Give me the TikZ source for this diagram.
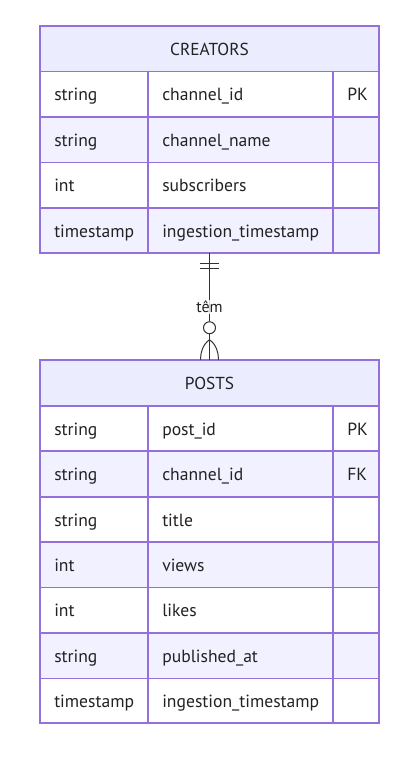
\documentclass[tikz,border=0pt]{standalone}
\usepackage{fontspec}
\setmainfont{PT Sans}
\definecolor{entstroke}{HTML}{9370DB}
\definecolor{hdrfill}{HTML}{ECECFF}
\definecolor{evenfill}{HTML}{F2F1FF}
\definecolor{txt}{HTML}{222222}
\definecolor{lnk}{HTML}{333333}
\def\u{0.75pt}
\tikzset{
  cellbox/.style={draw=entstroke, line width=1.3pt, fill=#1},
  celltxt/.style={inner sep=0pt, anchor=base west, text=txt, font=\fontsize{13.2}{15}\selectfont},
  hdrtxt/.style={inner sep=0pt, anchor=base, text=txt, font=\fontsize{13}{15}\selectfont},
  entity/.style={draw=none, inner sep=0pt, minimum width=339*\u, minimum height=#1*\u},
  relline/.style={draw=lnk, line width=0.75pt},
  rellabel/.style={fill=white, fill opacity=0.8, text opacity=1, inner sep=1pt, text=txt, font=\fontsize{12}{13}\selectfont},
}
% \erow{y0}{y1}{fill}{type}{name}{key}{id}
\newcommand\erow[7]{%
  \path[cellbox=#3] (40,#1) rectangle (148,#2);
  \path[cellbox=#3] (148,#1) rectangle (333,#2);
  \path[cellbox=#3] (333,#1) rectangle (379,#2);
  \node[celltxt] (#7t) at (54,{(#1+#2)/2+6.5}) {#4};
  \node[celltxt] (#7n) at (162,{(#1+#2)/2+6.5}) {#5};
  \node[celltxt] (#7k) at (347,{(#1+#2)/2+6.5}) {#6};
}
\begin{document}
\begin{tikzpicture}[x=0.75pt,y=-0.75pt]
\useasboundingbox (0,0) rectangle (414,758);
% CREATORS
\node[entity=227] (creators) at (209.5,139.5) {};
\path[cellbox=hdrfill] (40,26) rectangle (379,71.5);
\node[hdrtxt] (creatorsh) at (209.5,55) {CREATORS};
\erow{71.5}{117}{white}{string}{channel\_id}{PK}{c1}
\erow{117}{162.5}{evenfill}{string}{channel\_name}{}{c2}
\erow{162.5}{208}{white}{int}{subscribers}{}{c3}
\erow{208}{253}{evenfill}{timestamp}{ingestion\_timestamp}{}{c4}
% POSTS
\node[entity=363] (posts) at (209.5,541.5) {};
\path[cellbox=hdrfill] (40,360) rectangle (379,406);
\node[hdrtxt] (postsh) at (209.5,389.5) {POSTS};
\erow{406}{451.3}{white}{string}{post\_id}{PK}{p1}
\erow{451.3}{496.8}{evenfill}{string}{channel\_id}{FK}{p2}
\erow{496.8}{542.2}{white}{string}{title}{}{p3}
\erow{542.2}{587.6}{evenfill}{int}{views}{}{p4}
\erow{587.6}{633}{white}{int}{likes}{}{p5}
\erow{633}{678.4}{evenfill}{string}{published\_at}{}{p6}
\erow{678.4}{723}{white}{timestamp}{ingestion\_timestamp}{}{p7}
% relationship
\node[circle, draw=lnk, line width=0.75pt, fill=white, minimum size=12*\u, inner sep=0pt] (circ) at ([yshift=32*\u]posts.north) {};
\draw[relline] (creators.south) -- (circ.north);
\draw[relline] (circ.south) -- (posts.north);
\draw[relline] ([xshift=-9.5*\u,yshift=-10*\u]creators.south) -- ([xshift=9.5*\u,yshift=-10*\u]creators.south);
\draw[relline] ([xshift=-9.5*\u,yshift=-15*\u]creators.south) -- ([xshift=9.5*\u,yshift=-15*\u]creators.south);
\coordinate (foot) at ([yshift=20*\u]posts.north);
\draw[relline] (foot) .. controls ([xshift=-7*\u,yshift=-5*\u]foot) and ([xshift=-9*\u,yshift=-13*\u]foot) .. ([xshift=-9*\u]posts.north);
\draw[relline] (foot) .. controls ([xshift=7*\u,yshift=-5*\u]foot) and ([xshift=9*\u,yshift=-13*\u]foot) .. ([xshift=9*\u]posts.north);
\node[rellabel] (lbl) at (209.5,307) {têm};
\end{tikzpicture}
\end{document}
